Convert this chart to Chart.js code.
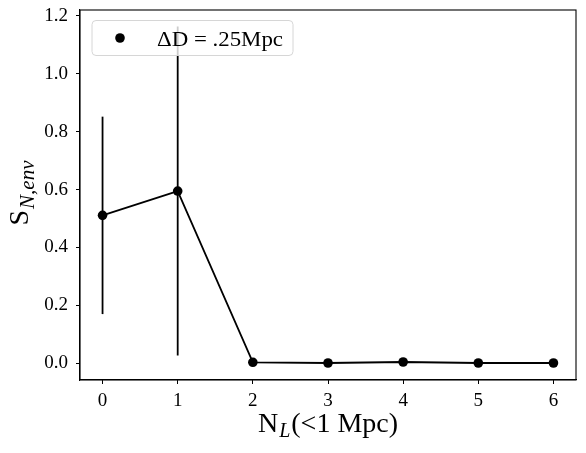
<!DOCTYPE html>
<html>
<head>
<meta charset="utf-8">
<script src="https://cdn.jsdelivr.net/npm/chart.js@4"></script>
<style>
html,body{margin:0;padding:0;background:#fff;}
#wrap{width:586px;height:453px;}
</style>
</head>
<body>
<div id="wrap"><canvas id="c" width="586" height="453"></canvas></div>
<script>
const xValues = [0, 1, 2, 3, 4, 5, 6];
const sValues = [0.511, 0.595, 0.0035, 0.001, 0.0045, 0.001, 0.001];
const sErrors = [0.341, 0.568, 0, 0, 0, 0, 0];
const xTicks = [0, 1, 2, 3, 4, 5, 6];
const yTicks = [0.0, 0.2, 0.4, 0.6, 0.8, 1.0, 1.2];
const legendLabel = "\u0394D = .25Mpc";

const SERIF = "'Liberation Serif', 'DejaVu Serif', serif";

const errorBars = {
  id: 'errorBars',
  beforeDatasetsDraw(chart) {
    const {ctx, scales: {x, y}} = chart;
    ctx.save();
    ctx.strokeStyle = '#000';
    ctx.lineWidth = 1.8;
    xValues.forEach((xv, i) => {
      if (!sErrors[i]) return;
      const px = x.getPixelForValue(xv);
      ctx.beginPath();
      ctx.moveTo(px, y.getPixelForValue(sValues[i] - sErrors[i]));
      ctx.lineTo(px, y.getPixelForValue(sValues[i] + sErrors[i]));
      ctx.stroke();
    });
    ctx.restore();
  }
};

function drawRuns(ctx, runs, x, y) {
  let cx = x;
  runs.forEach(r => {
    ctx.font = r.font;
    ctx.fillText(r.t, cx, y + (r.dy || 0));
    cx += ctx.measureText(r.t).width + (r.gap || 0);
  });
}
function runsWidth(ctx, runs) {
  let w = 0;
  runs.forEach(r => { ctx.font = r.font; w += ctx.measureText(r.t).width + (r.gap || 0); });
  return w;
}

const decorations = {
  id: 'decorations',
  afterDraw(chart) {
    const {ctx, chartArea: a} = chart;
    ctx.save();
    ctx.strokeStyle = '#000';
    ctx.lineWidth = 1.1;
    ctx.strokeRect(a.left, a.top, a.right - a.left, a.bottom - a.top);

    ctx.fillStyle = '#000';
    ctx.textBaseline = 'alphabetic';
    ctx.textAlign = 'left';
    // x title
    const xr = [
      {t: 'N', font: `28px ${SERIF}`, gap: 1},
      {t: 'L', font: `italic 20px ${SERIF}`, dy: 5, gap: 1},
      {t: '(<1 Mpc)', font: `28px ${SERIF}`}
    ];
    const xw = runsWidth(ctx, xr);
    drawRuns(ctx, xr, (a.left + a.right) / 2 - xw / 2, 432);

    // y title (rotated)
    const yr = [
      {t: 'S', font: `28px ${SERIF}`, gap: 1},
      {t: 'N,env', font: `italic 21px ${SERIF}`, dy: 6}
    ];
    const yw = runsWidth(ctx, yr);
    ctx.save();
    ctx.translate(28, 193);
    ctx.rotate(-Math.PI / 2);
    drawRuns(ctx, yr, -yw / 2, 0);
    ctx.restore();

    // legend
    const lx = 92, ly = 20.5, lw = 201, lh = 35, r = 4;
    ctx.beginPath();
    ctx.moveTo(lx + r, ly);
    ctx.arcTo(lx + lw, ly, lx + lw, ly + lh, r);
    ctx.arcTo(lx + lw, ly + lh, lx, ly + lh, r);
    ctx.arcTo(lx, ly + lh, lx, ly, r);
    ctx.arcTo(lx, ly, lx + lw, ly, r);
    ctx.closePath();
    ctx.fillStyle = 'rgba(255,255,255,0.8)';
    ctx.fill();
    ctx.strokeStyle = '#d6d6d6';
    ctx.lineWidth = 1;
    ctx.stroke();
    ctx.fillStyle = '#000';
    ctx.beginPath();
    ctx.arc(120, 38, 4.8, 0, Math.PI * 2);
    ctx.fill();
    ctx.font = `22px ${SERIF}`;
    ctx.textBaseline = 'alphabetic';
    const tw = ctx.measureText(legendLabel).width;
    ctx.save();
    ctx.translate(157, 45.5);
    ctx.scale(126 / tw, 1);
    ctx.fillText(legendLabel, 0, 0);
    ctx.restore();
    ctx.restore();
  }
};

new Chart(document.getElementById('c'), {
  type: 'line',
  data: {
    datasets: [{
      label: legendLabel,
      data: xValues.map((v, i) => ({x: v, y: sValues[i]})),
      borderColor: '#000',
      backgroundColor: '#000',
      borderWidth: 1.8,
      pointRadius: 4.8,
      pointBorderWidth: 0,
      pointBackgroundColor: '#000',
      tension: 0,
      clip: false
    }]
  },
  options: {
    responsive: false,
    animation: false,
    events: [],
    layout: {padding: {top: 10, right: 10, left: 0, bottom: 0}},
    plugins: {legend: {display: false}, tooltip: {enabled: false}, title: {display: false}},
    scales: {
      x: {
        type: 'linear',
        min: -0.3, max: 6.3,
        afterBuildTicks: s => { s.ticks = xTicks.map(v => ({value: v})); },
        afterFit: s => { s.height = 73; s.paddingLeft = 0; s.paddingRight = 0; },
        ticks: {
          color: '#000', font: {family: SERIF, size: 19}, padding: 6,
          maxRotation: 0, autoSkip: false,
          callback: v => String(v)
        },
        grid: {drawOnChartArea: false, drawTicks: true, tickLength: 4, color: '#000', lineWidth: 1},
        border: {display: true, color: '#000', width: 1.1}
      },
      y: {
        min: -0.0577, max: 1.2204,
        afterBuildTicks: s => { s.ticks = yTicks.map(v => ({value: v})); },
        afterFit: s => { s.width = 80; s.paddingTop = 0; s.paddingBottom = 0; },
        ticks: {
          color: '#000', font: {family: SERIF, size: 19}, padding: 8,
          autoSkip: false,
          callback: v => v.toFixed(1)
        },
        grid: {drawOnChartArea: false, drawTicks: true, tickLength: 4, color: '#000', lineWidth: 1},
        border: {display: true, color: '#000', width: 1.1}
      }
    }
  },
  plugins: [errorBars, decorations]
});
</script>
</body>
</html>
